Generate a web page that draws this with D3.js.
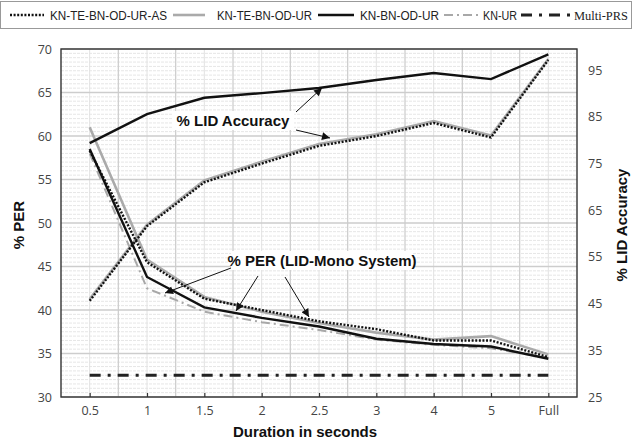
<!DOCTYPE html>
<html><head><meta charset="utf-8">
<script src="https://cdnjs.cloudflare.com/ajax/libs/d3/7.8.5/d3.min.js"></script>
<style>html,body{margin:0;padding:0;background:#fff;}svg{display:block;}</style>
</head><body>
<svg id="chart" width="632" height="441"></svg>
<script>
const categories = ["0.5","1","1.5","2","2.5","3","4","5","Full"];
const perTicks = [30,35,40,45,50,55,60,65,70];
const lidTicks = [25,35,45,55,65,75,85,95];

// % PER (left axis)
const perAS   = [58.3, 45.5, 41.3, 40.0, 38.7, 37.8, 36.5, 36.5, 34.6];
const perTE   = [61.0, 45.8, 41.5, 39.8, 38.5, 37.4, 36.6, 37.0, 34.9];
const perBN   = [58.5, 43.8, 40.3, 39.1, 38.1, 36.7, 36.1, 35.8, 34.4];
const perKNUR = [58.0, 42.5, 39.8, 38.6, 37.7, 36.6, 36.0, 35.6, 34.5];
const perMulti= [32.5, 32.5, 32.5, 32.5, 32.5, 32.5, 32.5, 32.5, 32.5];
// % LID Accuracy (right axis)
const lidAS = [45.6, 61.6, 71.0, 75.0, 78.8, 80.9, 83.7, 80.6, 97.2];
const lidTE = [46.0, 61.9, 71.4, 75.4, 79.2, 81.3, 84.1, 81.0, 97.4];
const lidBN = [79.4, 85.6, 89.1, 90.1, 91.2, 92.9, 94.4, 93.1, 98.4];

const legendNames = ["KN-TE-BN-OD-UR-AS","KN-TE-BN-OD-UR","KN-BN-OD-UR","KN-UR","Multi-PRS"];

const svg = d3.select("#chart");
const L = 61, R = 577, T = 49, B = 397;

const x = d3.scalePoint().domain(categories).range([L, R]).padding(0.5);
const yL = d3.scaleLinear().domain([30, 70]).range([B, T]);
const yR = d3.scaleLinear().domain([25, 99.55]).range([B, T]);
const step = x.step();

// styles
const S = {
  AS:   {stroke:"#111", width:2.4, dash:"2 1.6"},
  TE:   {stroke:"#aaa", width:2.6, dash:null},
  BN:   {stroke:"#111", width:2.4, dash:null},
  KNUR: {stroke:"#a8a8a8", width:2.0, dash:"9 4 2 4"},
  MULTI:{stroke:"#222", width:3, dash:"11 7 3 7"}
};

// grid: minor horizontal
const g = svg.append("g");
d3.range(30, 70.01, 0.5).forEach(v => {
  if (Math.abs(v % 5) < 1e-6) return;
  g.append("line").attr("x1", L).attr("x2", R).attr("y1", yL(v)).attr("y2", yL(v))
    .attr("stroke", "#e6e6e6").attr("stroke-width", 1).attr("stroke-dasharray", "3 1");
});
// vertical grid at categories (light) and boundaries (darker)
categories.forEach((c, i) => {
  g.append("line").attr("x1", x(c)).attr("x2", x(c)).attr("y1", T).attr("y2", B)
    .attr("stroke", "#e2e2e2").attr("stroke-width", 1);
  if (i > 0) {
    const xb = x(c) - step / 2;
    g.append("line").attr("x1", xb).attr("x2", xb).attr("y1", T).attr("y2", B)
      .attr("stroke", "#cfcfcf").attr("stroke-width", 1.3);
  }
});
// major horizontal
perTicks.forEach(v => {
  g.append("line").attr("x1", L).attr("x2", R).attr("y1", yL(v)).attr("y2", yL(v))
    .attr("stroke", "#cdcdcd").attr("stroke-width", 1.3);
});

// lines
function drawLine(data, scale, st) {
  const line = d3.line().x((d, i) => x(categories[i])).y(d => scale(d));
  const p = svg.append("path").datum(data).attr("d", line)
    .attr("fill", "none").attr("stroke", st.stroke).attr("stroke-width", st.width)
    .attr("stroke-linejoin", "miter");
  if (st.dash) p.attr("stroke-dasharray", st.dash);
  return p;
}
drawLine(perMulti, yL, S.MULTI);
drawLine(perKNUR, yL, S.KNUR);
drawLine(perTE, yL, S.TE);
drawLine(lidTE, yR, S.TE);
drawLine(perBN, yL, S.BN);
drawLine(lidBN, yR, S.BN);
drawLine(perAS, yL, S.AS);
drawLine(lidAS, yR, S.AS);

// frame
svg.append("rect").attr("x", L).attr("y", T).attr("width", R - L).attr("height", B - T)
  .attr("fill", "none").attr("stroke", "#333").attr("stroke-width", 1.4);

// axes
const tickFont = "'Open Sans', 'DejaVu Sans', sans-serif";
const axL = svg.append("g").attr("transform", `translate(${L},0)`)
  .call(d3.axisLeft(yL).tickValues(perTicks).tickSize(0).tickPadding(9));
const axR = svg.append("g").attr("transform", `translate(${R},0)`)
  .call(d3.axisRight(yR).tickValues(lidTicks).tickSize(0).tickPadding(11));
const axB = svg.append("g").attr("transform", `translate(0,${B})`)
  .call(d3.axisBottom(x).tickSizeInner(-4).tickSizeOuter(0).tickPadding(9));
[axL, axR, axB].forEach(a => {
  a.select(".domain").remove();
  a.selectAll("text").attr("font-family", tickFont).attr("font-size", 12.5).attr("fill", "#444");
});
axB.selectAll(".tick line").attr("stroke", "#333").attr("stroke-width", 1.2);

// axis titles
const boldFont = "'Liberation Sans', Arial, sans-serif";
svg.append("text").attr("transform", "translate(24,225) rotate(-90)")
  .attr("text-anchor", "middle").attr("font-family", boldFont).attr("font-weight", "bold")
  .attr("font-size", 15).attr("fill", "#111").text("% PER");
svg.append("text").attr("transform", "translate(627,225) rotate(-90)")
  .attr("text-anchor", "middle").attr("font-family", boldFont).attr("font-weight", "bold")
  .attr("font-size", 15).attr("fill", "#111").text("% LID Accuracy");
svg.append("text").attr("x", 305).attr("y", 437)
  .attr("text-anchor", "middle").attr("font-family", boldFont).attr("font-weight", "bold")
  .attr("font-size", 15).attr("fill", "#111").text("Duration in seconds");

// annotations
const defs = svg.append("defs");
defs.append("marker").attr("id", "ah").attr("viewBox", "0 0 10 10").attr("refX", 10).attr("refY", 5)
  .attr("markerWidth", 10).attr("markerHeight", 8).attr("markerUnits", "userSpaceOnUse")
  .attr("orient", "auto")
  .append("path").attr("d", "M0,0 L10,5 L0,10 Z").attr("fill", "#111");

function arrow(x1, y1, x2, y2) {
  svg.append("line").attr("x1", x1).attr("y1", y1).attr("x2", x2).attr("y2", y2)
    .attr("stroke", "#111").attr("stroke-width", 1).attr("marker-end", "url(#ah)");
}
function label(txt, cx, cy, w) {
  svg.append("rect").attr("x", cx - w / 2 - 3).attr("y", cy - 10).attr("width", w + 6).attr("height", 19)
    .attr("fill", "#fff");
  svg.append("text").attr("x", cx).attr("y", cy + 5).attr("text-anchor", "middle")
    .attr("font-family", boldFont).attr("font-weight", "bold").attr("font-size", 15)
    .attr("fill", "#111").text(txt);
}
label("% LID Accuracy", 233, 121, 116);
arrow(296, 112, 322, 88);
arrow(296, 130, 330, 138);
label("% PER (LID-Mono System)", 322, 261, 176);
arrow(231, 268, 165, 293);
arrow(258, 276, 236, 311);
arrow(285, 277, 309, 317);

// legend
svg.append("rect").attr("x", 0.5).attr("y", 1.5).attr("width", 631).attr("height", 27)
  .attr("fill", "#fff").attr("stroke", "#999").attr("stroke-width", 1);
const legStyles = [S.AS, S.TE, S.BN, S.KNUR, S.MULTI];
const legLine = [[10, 44], [173, 205], [318, 354], [444, 478], [521, 570]];
const legText = [[50, 117], [217, 95], [360, 79], [483, 34], [574, 54]];
const narrow = "'Liberation Sans Narrow', 'Arial Narrow', 'Liberation Sans', sans-serif";
legendNames.forEach((n, i) => {
  const st = legStyles[i];
  const ln = svg.append("line").attr("x1", legLine[i][0]).attr("x2", legLine[i][1])
    .attr("y1", 15).attr("y2", 15).attr("stroke", st.stroke).attr("stroke-width", st.width);
  if (st.dash) ln.attr("stroke-dasharray", st.dash);
  svg.append("text").attr("x", legText[i][0]).attr("y", 19.5)
    .attr("font-family", i === 4 ? "'Liberation Serif', 'Times New Roman', serif" : narrow)
    .attr("font-size", 12.5).attr("fill", "#222")
    .attr("textLength", legText[i][1]).attr("lengthAdjust", "spacingAndGlyphs").text(n);
});
</script>
</body></html>
